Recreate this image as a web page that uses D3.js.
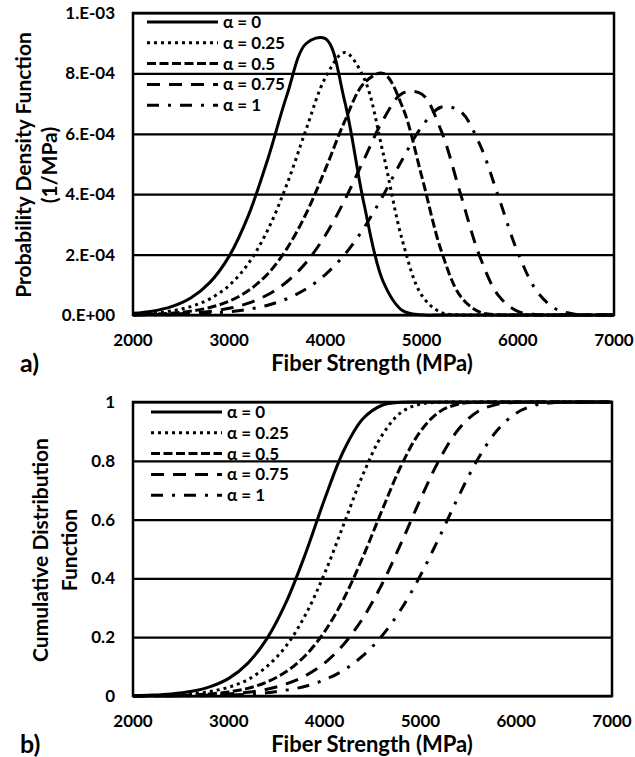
<!DOCTYPE html>
<html>
<head>
<meta charset="utf-8">
<script src="https://cdn.jsdelivr.net/npm/d3@7"></script>
<style>
  body { margin: 0; background: #fff; }
  svg { display: block; font-family: Lato, "Open Sans", sans-serif; font-weight: bold; }
</style>
</head>
<body>
<svg id="chart" width="635" height="757"></svg>
<script>
// fiber strength grid (MPa)
var strength = [2000, 2200, 2400, 2600, 2800, 3000, 3200, 3400, 3600, 3800, 4000, 4200, 4400,
  4600, 4800, 5000, 5200, 5400, 5600, 5800, 6000, 6200, 6400, 6600, 6800, 7000];

var alphas = ["α = 0", "α = 0.25", "α = 0.5", "α = 0.75", "α = 1"];

// probability density, in units of 1e-4 (1/MPa)
var pdf0 = [0.054, 0.127, 0.277, 0.564, 1.08, 1.95, 3.30, 5.15, 7.28, 8.99, 9.15, 7.08, 3.70,
  1.11, 0.15, 0.007, 0, 0, 0, 0, 0, 0, 0, 0, 0, 0];
var pdf25 = [0.026, 0.062, 0.135, 0.277, 0.536, 0.98, 1.71, 2.81, 4.33, 6.15, 7.86, 8.69, 7.85,
  5.36, 2.47, 0.66, 0.085, 0.004, 0, 0, 0, 0, 0, 0, 0, 0];
var pdf50 = [0.012, 0.029, 0.062, 0.128, 0.248, 0.458, 0.81, 1.36, 2.20, 3.36, 4.83, 6.41, 7.67,
  8.00, 6.90, 4.61, 2.17, 0.64, 0.10, 0.007, 0, 0, 0, 0, 0, 0];
var pdf75 = [0.006, 0.014, 0.030, 0.061, 0.119, 0.221, 0.393, 0.672, 1.10, 1.74, 2.64, 3.80, 5.14,
  6.46, 7.34, 7.32, 6.13, 4.06, 1.98, 0.64, 0.121, 0.011, 0, 0, 0, 0];
var pdf100 = [0.003, 0.0065, 0.014, 0.029, 0.057, 0.106, 0.189, 0.325, 0.538, 0.863, 1.34, 2.00, 2.88,
  3.96, 5.15, 6.23, 6.88, 6.75, 5.68, 3.91, 2.07, 0.78, 0.19, 0.027, 0, 0];

// cumulative distribution
var cdf0 = [0.001, 0.003, 0.007, 0.015, 0.031, 0.060, 0.112, 0.196, 0.320, 0.484, 0.669, 0.835, 0.943,
  0.989, 0.999, 1, 1, 1, 1, 1, 1, 1, 1, 1, 1, 1];
var cdf25 = [0.0005, 0.0014, 0.003, 0.007, 0.015, 0.030, 0.056, 0.101, 0.171, 0.276, 0.417, 0.584, 0.753,
  0.887, 0.965, 0.993, 0.999, 1, 1, 1, 1, 1, 1, 1, 1, 1];
var cdf50 = [0.0002, 0.0006, 0.0015, 0.003, 0.007, 0.014, 0.026, 0.048, 0.083, 0.138, 0.219, 0.331, 0.473,
  0.632, 0.784, 0.900, 0.967, 0.993, 0.999, 1, 1, 1, 1, 1, 1, 1];
var cdf75 = [0.0001, 0.0003, 0.0007, 0.0016, 0.003, 0.007, 0.013, 0.023, 0.041, 0.069, 0.112, 0.176, 0.265,
  0.381, 0.521, 0.669, 0.805, 0.908, 0.968, 0.992, 0.999, 1, 1, 1, 1, 1];
var cdf100 = [0.0001, 0.0001, 0.0003, 0.0008, 0.0016, 0.003, 0.006, 0.011, 0.020, 0.033, 0.055, 0.088, 0.137,
  0.205, 0.296, 0.410, 0.542, 0.680, 0.806, 0.903, 0.962, 0.989, 0.998, 1, 1, 1];

var xTicks = [2000, 3000, 4000, 5000, 6000, 7000];
var pdfTicks = [0, 2, 4, 6, 8, 10];
var pdfTickLabels = ["0.E+00", "2.E-04", "4.E-04", "6.E-04", "8.E-04", "1.E-03"];
var cdfTicks = [0, 0.2, 0.4, 0.6, 0.8, 1];
var cdfTickLabels = ["0", "0.2", "0.4", "0.6", "0.8", "1"];

var dashes = ["none", "3,4", "9,3.5", "13,9", "12,9,3,9"];

var svg = d3.select("#chart");

function drawPanel(opt) {
  var x = d3.scaleLinear().domain([2000, 7000]).range([opt.left, opt.right]);
  var y = d3.scaleLinear().domain(opt.domain).range([opt.bottom, opt.top]);
  var g = svg.append("g");

  // horizontal gridlines
  g.append("g")
    .attr("transform", `translate(${opt.left},0)`)
    .call(d3.axisLeft(y).tickValues(opt.ticks).tickSize(-(opt.right - opt.left)).tickFormat(""))
    .call(g => g.select(".domain").remove())
    .selectAll("line")
      .attr("stroke", "#000")
      .attr("stroke-width", 2.2);

  // y tick labels
  g.append("g").selectAll("text")
    .data(opt.ticks)
    .join("text")
      .attr("x", 115)
      .attr("y", d => y(d))
      .attr("dy", "0.35em")
      .attr("text-anchor", "end")
      .style("font-size", "17px")
      .text((d, i) => opt.tickLabels[i]);

  // x tick labels
  g.append("g").selectAll("text")
    .data(xTicks)
    .join("text")
      .attr("x", d => x(d))
      .attr("y", opt.bottom + 25)
      .attr("dy", "0.35em")
      .attr("text-anchor", "middle")
      .style("font-size", "17px")
      .text(d => d);

  // curves
  var line = d3.line()
    .x((d, i) => x(strength[i]))
    .y(d => y(d))
    .curve(d3.curveCatmullRom.alpha(0.5));

  g.append("g").selectAll("path")
    .data(opt.series)
    .join("path")
      .attr("d", d => line(d))
      .attr("fill", "none")
      .attr("stroke", "#000")
      .attr("stroke-width", 3)
      .attr("stroke-dasharray", (d, i) => dashes[i]);

  // plot frame
  g.append("rect")
    .attr("x", opt.left)
    .attr("y", opt.top)
    .attr("width", opt.right - opt.left)
    .attr("height", opt.bottom - opt.top)
    .attr("fill", "none")
    .attr("stroke", "#000")
    .attr("stroke-width", 2.5);

  // legend
  var leg = g.append("g").selectAll("g")
    .data(alphas)
    .join("g")
      .attr("transform", (d, i) => `translate(0,${opt.legendY + i * 20.8})`);
  leg.append("line")
    .attr("x1", opt.legendX)
    .attr("x2", opt.legendX + 71)
    .attr("stroke", "#000")
    .attr("stroke-width", 3)
    .attr("stroke-dasharray", (d, i) => dashes[i]);
  leg.append("text")
    .attr("x", opt.legendX + 76)
    .attr("dy", "0.35em")
    .style("font-size", "17px")
    .text(d => d);

  // axis titles
  g.append("text")
    .attr("x", 372)
    .attr("y", opt.bottom + 48)
    .attr("dy", "0.35em")
    .attr("text-anchor", "middle")
    .style("font-size", "22px")
    .text("Fiber Strength (MPa)");

  opt.yTitle.forEach(function(t, i) {
    g.append("text")
      .attr("transform", `translate(${opt.yTitleX[i]},${(opt.top + opt.bottom) / 2 + 1}) rotate(-90)`)
      .attr("dy", "0.35em")
      .attr("text-anchor", "middle")
      .style("font-size", "21px")
      .text(t);
  });

  g.append("text")
    .attr("x", 20)
    .attr("y", opt.bottom + 48)
    .attr("dy", "0.35em")
    .style("font-size", "25px")
    .text(opt.tag);
}

drawPanel({
  left: 133, right: 614, top: 13, bottom: 315,
  domain: [0, 10], ticks: pdfTicks, tickLabels: pdfTickLabels,
  series: [pdf0, pdf25, pdf50, pdf75, pdf100],
  legendX: 147, legendY: 22,
  yTitle: ["Probability Density Function", "(1/MPa)"], yTitleX: [24, 50],
  tag: "a)"
});

drawPanel({
  left: 133, right: 612, top: 402, bottom: 696,
  domain: [0, 1], ticks: cdfTicks, tickLabels: cdfTickLabels,
  series: [cdf0, cdf25, cdf50, cdf75, cdf100],
  legendX: 151, legendY: 412,
  yTitle: ["Cumulative Distribution", "Function"], yTitleX: [41, 70],
  tag: "b)"
});
</script>
</body>
</html>
